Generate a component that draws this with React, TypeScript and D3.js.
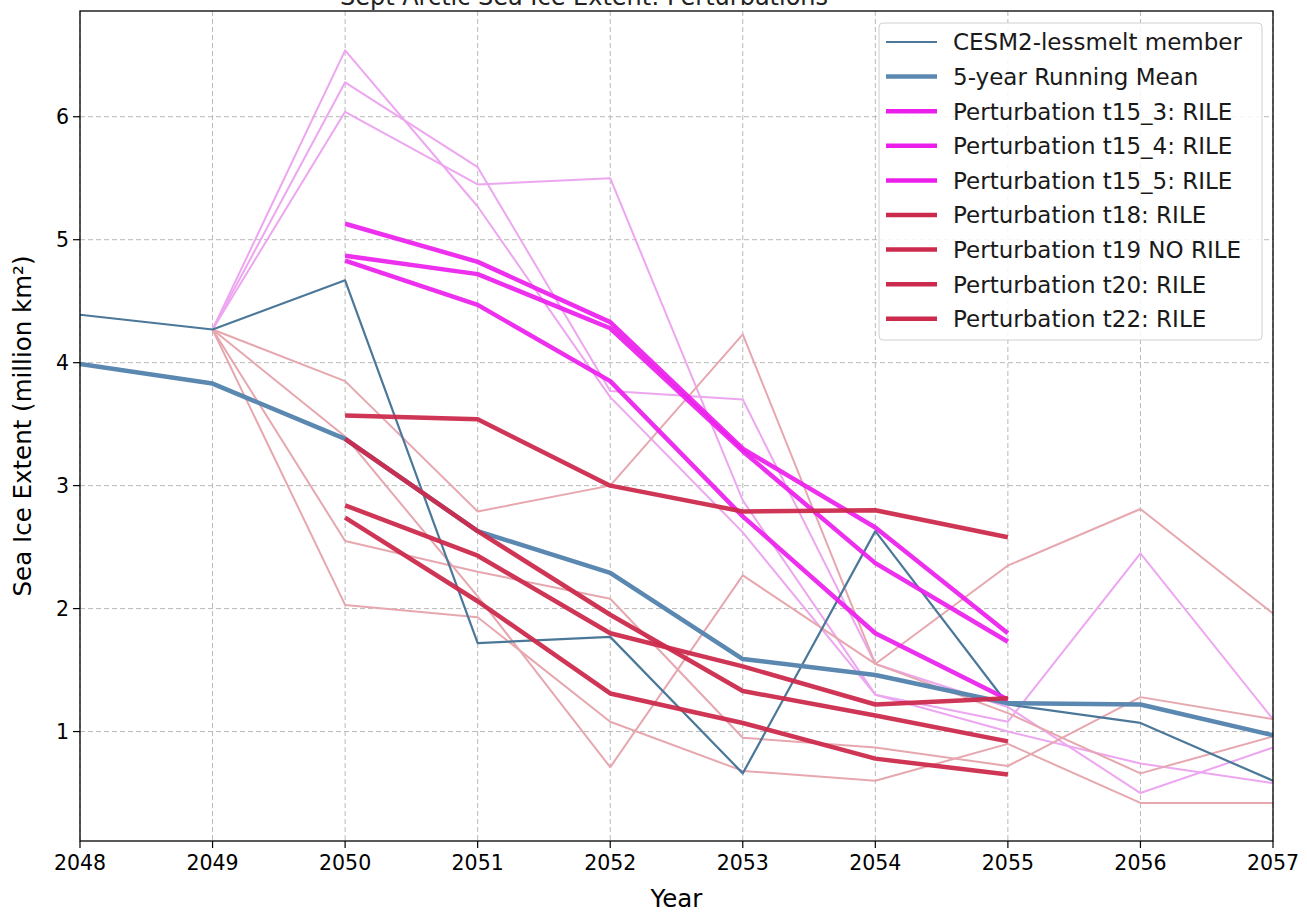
import React from "react";
import * as d3 from "d3";

const years = [2048, 2049, 2050, 2051, 2052, 2053, 2054, 2055, 2056, 2057];
const memberValues = [4.39, 4.27, 4.67, 1.72, 1.77, 0.66, 2.63, 1.22, 1.07, 0.6];
const runningMean = [3.99, 3.83, 3.38, 2.63, 2.29, 1.59, 1.46, 1.23, 1.22, 0.97];

const paleYears = [2049, 2050, 2051, 2052, 2053, 2054, 2055, 2056, 2057];
const paleMagenta = [
  [4.27, 6.54, 5.27, 3.72, 2.62, 1.3, 1.08, 2.45, 1.1],
  [4.27, 6.28, 5.59, 3.77, 3.7, 1.55, 1.2, 0.5, 0.87],
  [4.27, 6.04, 5.45, 5.5, 2.88, 1.3, 1.0, 0.74, 0.58],
];
const paleRed = [
  [4.27, 3.85, 2.79, 3.0, 4.23, 1.55, 2.35, 2.81, 1.96],
  [4.27, 3.4, 2.1, 0.71, 2.27, 1.55, 1.15, 0.66, 0.96],
  [4.27, 2.55, 2.3, 2.08, 0.95, 0.87, 0.72, 1.28, 1.1],
  [4.27, 2.03, 1.93, 1.08, 0.68, 0.6, 0.9, 0.42, 0.42],
];

const thickYears = [2050, 2051, 2052, 2053, 2054, 2055];
const t15_3 = [5.13, 4.82, 4.33, 3.3, 2.66, 1.8];
const t15_4 = [4.87, 4.72, 4.28, 3.28, 2.37, 1.73];
const t15_5 = [4.83, 4.47, 3.85, 2.75, 1.8, 1.26];
const t18 = [3.57, 3.54, 3.0, 2.79, 2.8, 2.58];
const t19 = [3.38, 2.63, 1.95, 1.33, 1.13, 0.92];
const t20 = [2.84, 2.43, 1.8, 1.53, 1.22, 1.27];
const t22 = [2.74, 2.06, 1.31, 1.07, 0.78, 0.65];

const yTicks = [1, 2, 3, 4, 5, 6];
const xTicks = years;

const legendLabels = [
  "CESM2-lessmelt member",
  "5-year Running Mean",
  "Perturbation t15_3: RILE",
  "Perturbation t15_4: RILE",
  "Perturbation t15_5: RILE",
  "Perturbation t18: RILE",
  "Perturbation t19 NO RILE",
  "Perturbation t20: RILE",
  "Perturbation t22: RILE",
];

const C_MEMBER = "#4b7899";
const C_MEAN = "#5a88b0";
const C_MAG = "#ec1eec";
const C_RED = "#cc2a4c";
const C_PALE_MAG = "#eda6f0";
const C_PALE_RED = "#e6a7af";

const legendStyles = [
  { color: C_MEMBER, width: 2 },
  { color: C_MEAN, width: 4.5 },
  { color: C_MAG, width: 4.5 },
  { color: C_MAG, width: 4.5 },
  { color: C_MAG, width: 4.5 },
  { color: C_RED, width: 4.5 },
  { color: C_RED, width: 4.5 },
  { color: C_RED, width: 4.5 },
  { color: C_RED, width: 4.5 },
];

const FONT = "'DejaVu Sans', Verdana, sans-serif";

export default function App() {
  const left = 80, right = 1273, top = 11, bottom = 841;
  const x = d3.scaleLinear().domain([2048, 2057]).range([left, right]);
  const y = d3.scaleLinear().domain([0.11, 6.86]).range([bottom, top]);

  const mkLine = (xs: number[]) =>
    d3
      .line<number>()
      .x((_, i) => x(xs[i]))
      .y((d) => y(d));

  const fullLine = mkLine(years);
  const paleLine = mkLine(paleYears);
  const thickLine = mkLine(thickYears);

  const thickMag = [t15_3, t15_4, t15_5];
  const thickRed = [t18, t19, t20, t22];

  const legX = 879, legY = 23, legW = 383, legH = 317;
  const rowH = 34.6;

  return (
    <svg
      width={1307}
      height={912}
      style={{ position: "absolute", left: 0, top: 0, background: "#fff" }}
      fontFamily={FONT}
    >
      <rect x={0} y={0} width={1307} height={912} fill="#fff" />
      <text x={584} y={5} textAnchor="middle" fontSize={24} fill="#222">
        Sept Arctic Sea Ice Extent: Perturbations
      </text>

      <defs>
        <clipPath id="plotclip">
          <rect x={left} y={top} width={right - left} height={bottom - top} />
        </clipPath>
      </defs>

      {/* grid */}
      <g stroke="#b9b9b9" strokeWidth={1} strokeDasharray="5,3">
        {xTicks.map((t) => (
          <line key={"gx" + t} x1={x(t)} x2={x(t)} y1={top} y2={bottom} />
        ))}
        {yTicks.map((t) => (
          <line key={"gy" + t} x1={left} x2={right} y1={y(t)} y2={y(t)} />
        ))}
      </g>

      <g clipPath="url(#plotclip)" fill="none" strokeLinejoin="round" strokeLinecap="butt">
        {paleMagenta.map((s, i) => (
          <path key={"pm" + i} d={paleLine(s) || ""} stroke={C_PALE_MAG} strokeWidth={2} />
        ))}
        {paleRed.map((s, i) => (
          <path key={"pr" + i} d={paleLine(s) || ""} stroke={C_PALE_RED} strokeWidth={2} />
        ))}
        <path d={fullLine(memberValues) || ""} stroke={C_MEMBER} strokeWidth={2.2} />
        <path d={fullLine(runningMean) || ""} stroke={C_MEAN} strokeWidth={4.5} />
        {thickMag.map((s, i) => (
          <path key={"tm" + i} d={thickLine(s) || ""} stroke={C_MAG} strokeWidth={4.5} opacity={0.92} />
        ))}
        {thickRed.map((s, i) => (
          <path key={"tr" + i} d={thickLine(s) || ""} stroke={C_RED} strokeWidth={4.5} opacity={0.95} />
        ))}
      </g>

      {/* axes frame */}
      <rect x={left} y={top} width={right - left} height={bottom - top} fill="none" stroke="#000" strokeWidth={1.3} />

      {/* x ticks */}
      {xTicks.map((t) => (
        <g key={"xt" + t}>
          <line x1={x(t)} x2={x(t)} y1={bottom} y2={bottom + 7} stroke="#000" strokeWidth={1.2} />
          <text x={x(t)} y={bottom + 29} textAnchor="middle" fontSize={20.5} fill="#000">
            {t}
          </text>
        </g>
      ))}
      {/* y ticks */}
      {yTicks.map((t) => (
        <g key={"yt" + t}>
          <line x1={left - 7} x2={left} y1={y(t)} y2={y(t)} stroke="#000" strokeWidth={1.2} />
          <text x={left - 11} y={y(t) + 7.5} textAnchor="end" fontSize={20.5} fill="#000">
            {t}
          </text>
        </g>
      ))}

      <text x={(left + right) / 2} y={907} textAnchor="middle" fontSize={24.5} fill="#000">
        Year
      </text>
      <text
        transform={`translate(31, ${(top + bottom) / 2}) rotate(-90)`}
        textAnchor="middle"
        fontSize={24.5}
        fill="#000"
      >
        Sea Ice Extent (million km²)
      </text>

      {/* legend */}
      <rect
        x={legX}
        y={legY}
        width={legW}
        height={legH}
        rx={4}
        fill="#fff"
        fillOpacity={0.85}
        stroke="#d0d0d0"
        strokeWidth={1}
      />
      {legendLabels.map((lab, i) => {
        const cy = legY + 19 + i * rowH;
        return (
          <g key={"lg" + i}>
            <line
              x1={legX + 7}
              x2={legX + 58}
              y1={cy}
              y2={cy}
              stroke={legendStyles[i].color}
              strokeWidth={legendStyles[i].width}
            />
            <text x={legX + 74} y={cy + 8.3} fontSize={23} fill="#1a1a1a">
              {lab}
            </text>
          </g>
        );
      })}
    </svg>
  );
}
